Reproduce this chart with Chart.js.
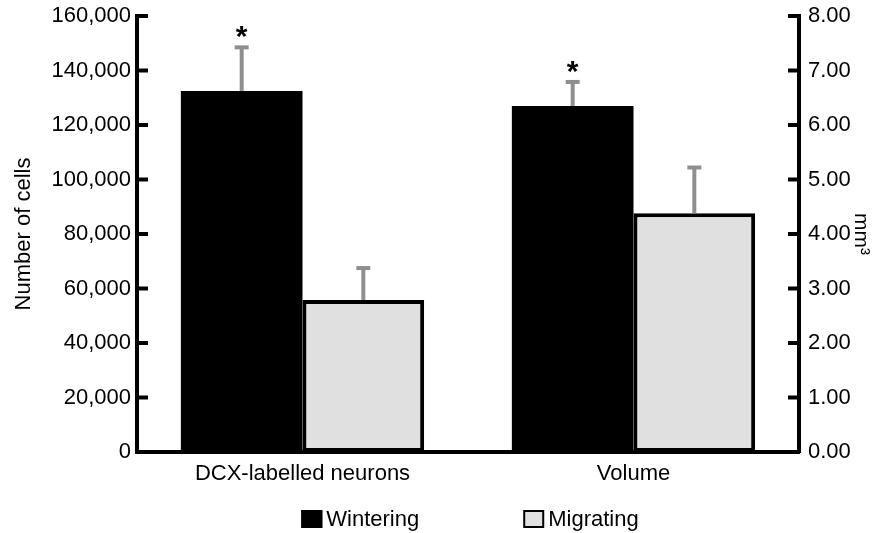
<!DOCTYPE html>
<html>
<head>
<meta charset="utf-8">
<script src="https://cdn.jsdelivr.net/npm/chart.js@4"></script>
<style>
    html, body { margin: 0; padding: 0; background: #fff; }
    #wrap { width: 878px; height: 533px; }
</style>
</head>
<body>
<div id="wrap"><canvas id="chart" width="878" height="533"></canvas></div>
<script>
// Data
const categories = ["DCX-labelled neurons", "Volume"];
const groups = ["Wintering", "Migrating"];
const cellsMean = [132500, 55800];
const cellsErr = [16000, 11700];
const volumeMean = [6.35, 4.38];
const volumeErr = [0.44, 0.84];
const significant = [true, false]; // asterisk over Wintering bars

const groupFill = ["#000000", "#e0e0e0"];
const errColor = "#8f8f8f";
const FONT = "'Liberation Sans', Arial, sans-serif";

Chart.defaults.font.family = FONT;
Chart.defaults.font.size = 22;
Chart.defaults.color = "#000";

// one dataset per group and per axis, nulls skipped so each pair fills its category
const datasets = [];
groups.forEach((g, i) => {
    datasets.push({
        label: g,
        data: [cellsMean[i], null],
        errors: [cellsErr[i], null],
        star: significant[i],
        yAxisID: "y",
        backgroundColor: groupFill[i],
        borderColor: "#000",
        borderWidth: i === 0 ? 0 : 4,
        borderSkipped: false,
    });
});
groups.forEach((g, i) => {
    datasets.push({
        label: g,
        data: [null, volumeMean[i]],
        errors: [null, volumeErr[i]],
        star: significant[i],
        yAxisID: "y1",
        backgroundColor: groupFill[i],
        borderColor: "#000",
        borderWidth: i === 0 ? 0 : 4,
        borderSkipped: false,
    });
});

// error bars (upper only) + asterisks
const errorBars = {
    id: "errorBars",
    afterDatasetsDraw(chart) {
        const ctx = chart.ctx;
        ctx.save();
        chart.data.datasets.forEach((ds, di) => {
            const meta = chart.getDatasetMeta(di);
            const scale = chart.scales[ds.yAxisID];
            ds.data.forEach((v, i) => {
                if (v === null) return;
                const bar = meta.data[i];
                const yTop = scale.getPixelForValue(v + ds.errors[i]);
                ctx.strokeStyle = errColor;
                ctx.lineWidth = 4;
                ctx.beginPath();
                ctx.moveTo(bar.x, bar.y);
                ctx.lineTo(bar.x, yTop);
                ctx.stroke();
                ctx.beginPath();
                ctx.moveTo(bar.x - 7, yTop);
                ctx.lineTo(bar.x + 7, yTop);
                ctx.stroke();
                if (ds.star) {
                    ctx.fillStyle = "#000";
                    ctx.font = "bold 30px " + FONT;
                    ctx.textAlign = "center";
                    ctx.textBaseline = "alphabetic";
                    ctx.fillText("*", bar.x, yTop - 1);
                }
            });
        });
        ctx.restore();
    },
};

// inward tick marks on both value axes
const inwardTicks = {
    id: "inwardTicks",
    afterDraw(chart) {
        const ctx = chart.ctx;
        const area = chart.chartArea;
        ctx.save();
        ctx.strokeStyle = "#000";
        ctx.lineWidth = 4;
        ["y", "y1"].forEach((id) => {
            const s = chart.scales[id];
            const x0 = id === "y" ? area.left : area.right;
            const dir = id === "y" ? 1 : -1;
            s.ticks.forEach((t) => {
                const py = s.getPixelForValue(t.value);
                ctx.beginPath();
                ctx.moveTo(x0, py);
                ctx.lineTo(x0 + dir * 11, py);
                ctx.stroke();
            });
        });
        ctx.restore();
    },
};

// legend below the plot, spaced like the figure
const bottomLegend = {
    id: "bottomLegend",
    afterDraw(chart) {
        const ctx = chart.ctx;
        const area = chart.chartArea;
        const boxW = 21, boxH = 18, gap = 4, spacing = 104;
        ctx.save();
        ctx.font = "22px " + FONT;
        const widths = groups.map((g) => boxW + gap + ctx.measureText(g).width);
        const total = widths.reduce((a, b) => a + b, 0) + spacing * (groups.length - 1);
        let x = (area.left + area.right) / 2 - total / 2 + 2;
        const cy = 519;
        groups.forEach((g, i) => {
            ctx.fillStyle = groupFill[i];
            ctx.fillRect(x, cy - boxH / 2, boxW, boxH);
            ctx.strokeStyle = "#000";
            ctx.lineWidth = 2;
            ctx.strokeRect(x + 1, cy - boxH / 2 + 1, boxW - 2, boxH - 2);
            ctx.fillStyle = "#000";
            ctx.textAlign = "left";
            ctx.textBaseline = "middle";
            ctx.fillText(g, x + boxW + gap, cy + 1);
            x += widths[i] + spacing;
        });
        ctx.restore();
    },
};

const fitSide = (w) => (s) => {
    s.width = w;
    s.paddingTop = 0;
    s.paddingBottom = 0;
};

new Chart(document.getElementById("chart"), {
    type: "bar",
    data: { labels: categories, datasets: datasets },
    options: {
        responsive: false,
        animation: false,
        skipNull: true,
        categoryPercentage: 0.735,
        barPercentage: 1,
        layout: { padding: { top: 16, bottom: 41, left: 0, right: 0 } },
        plugins: { legend: { display: false }, tooltip: { enabled: false } },
        scales: {
            x: {
                grid: { display: false, drawTicks: false },
                border: { display: true, color: "#000", width: 4 },
                ticks: { padding: 9, font: { size: 22 } },
                afterFit: (s) => {
                    s.height = 40;
                    s.paddingLeft = 0;
                    s.paddingRight = 0;
                },
            },
            y: {
                position: "left",
                min: 0,
                max: 160000,
                grid: { display: false, drawTicks: false },
                border: { display: true, color: "#000", width: 4 },
                ticks: {
                    stepSize: 20000,
                    padding: 6,
                    font: { size: 22 },
                    callback: (v) => v.toLocaleString("en-US"),
                },
                title: {
                    display: true,
                    text: "Number of cells",
                    font: { size: 22 },
                    padding: { top: 11, bottom: 0 },
                },
                afterFit: fitSide(137),
            },
            y1: {
                position: "right",
                min: 0,
                max: 8,
                grid: { display: false, drawTicks: false },
                border: { display: true, color: "#000", width: 4 },
                ticks: {
                    stepSize: 1,
                    padding: 9,
                    font: { size: 22 },
                    callback: (v) => v.toFixed(2),
                },
                title: {
                    display: true,
                    text: "mm³",
                    font: { size: 21 },
                    padding: { top: 5, bottom: 0 },
                },
                afterFit: fitSide(79),
            },
        },
    },
    plugins: [errorBars, inwardTicks, bottomLegend],
});
</script>
</body>
</html>
